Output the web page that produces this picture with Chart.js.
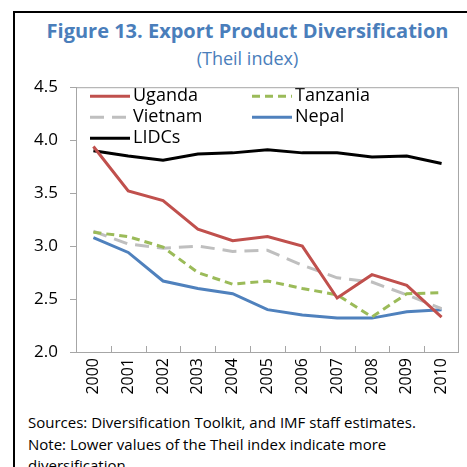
<!DOCTYPE html>
<html>
<head>
<meta charset="utf-8">
<script src="https://cdn.jsdelivr.net/npm/chart.js@4.4.0/dist/chart.umd.min.js"></script>
<style>
  body { margin: 0; background: #fff; font-family: "Open Sans", sans-serif; }
  #wrap { position: relative; width: 467px; height: 467px; overflow: hidden; }
  #frame { position: absolute; left: 13px; top: 11px; width: 470px; height: 470px;
           border-left: 2px solid #000; border-top: 2px solid #000; }
  #title { position: absolute; left: 14px; width: 467px; top: 17px; text-align: center;
           color: #4A7EBB; font-weight: bold; font-size: 20px; }
  #subtitle { position: absolute; left: 14px; width: 467px; top: 46px; text-align: center;
              color: #4A7EBB; font-size: 18px; }
  #box { position: absolute; left: 14px; top: 65px; width: 453px; height: 342px; }
  .note { position: absolute; left: 28px; font-size: 15px; color: #000; white-space: nowrap; }
</style>
</head>
<body>
<div id="wrap">
  <div id="frame"></div>
  <div id="title">Figure 13. Export Product Diversification</div>
  <div id="subtitle">(Theil index)</div>
  <div id="box"><canvas id="myChart"></canvas></div>
  <div class="note" style="top:412px">Sources: Diversification Toolkit, and IMF staff estimates.</div>
  <div class="note" style="top:434px">Note: Lower values of the Theil index indicate more</div>
  <div class="note" style="top:455px">diversification.</div>
</div>
<script>
// Datos
const years = ['2000', '2001', '2002', '2003', '2004', '2005', '2006', '2007', '2008', '2009', '2010'];
const uganda = [3.94, 3.52, 3.43, 3.16, 3.05, 3.09, 3.00, 2.51, 2.73, 2.63, 2.33];
const tanzania = [3.13, 3.09, 2.99, 2.75, 2.64, 2.67, 2.60, 2.54, 2.33, 2.55, 2.56];
const vietnam = [3.14, 3.02, 2.98, 3.00, 2.95, 2.96, 2.82, 2.70, 2.66, 2.54, 2.41];
const nepal = [3.08, 2.94, 2.67, 2.60, 2.55, 2.40, 2.35, 2.32, 2.32, 2.38, 2.40];
const lidcs = [3.90, 3.85, 3.81, 3.87, 3.88, 3.91, 3.88, 3.88, 3.84, 3.85, 3.78];
const yTicks = [2.0, 2.5, 3.0, 3.5, 4.0, 4.5];

const makeSet = (label, data, color, dash) => ({
    label: label,
    data: data,
    borderColor: color,
    backgroundColor: color,
    borderWidth: 3,
    borderDash: dash,
    pointRadius: 0,
    tension: 0,
    fill: false,
});

// leyenda dentro del area del grafico, dos columnas
const insideLegend = {
    id: 'insideLegend',
    afterDraw(chart) {
        const ctx = chart.ctx;
        const area = chart.chartArea;
        ctx.save();
        ctx.font = '18px "Open Sans"';
        ctx.textBaseline = 'middle';
        chart.data.datasets.forEach((ds, i) => {
            const col = i % 2;
            const row = Math.floor(i / 2);
            const x0 = area.left + 14 + col * 162;
            const y0 = area.top + 9 + row * 21;
            ctx.strokeStyle = ds.borderColor;
            ctx.lineWidth = 3;
            ctx.setLineDash(ds.borderDash || []);
            ctx.beginPath();
            ctx.moveTo(x0, y0);
            ctx.lineTo(x0 + 40, y0);
            ctx.stroke();
            ctx.setLineDash([]);
            ctx.fillStyle = '#000';
            ctx.fillText(ds.label, x0 + 43, y0);
        });
        // marco gris y marcas del eje x hacia dentro
        ctx.strokeStyle = '#A6A6A6';
        ctx.lineWidth = 1;
        ctx.strokeRect(area.left + 0.5, area.top + 0.5, area.right - area.left - 1, area.bottom - area.top);
        const step = (area.right - area.left) / years.length;
        ctx.beginPath();
        for (let i = 1; i < years.length; i++) {
            const x = Math.round(area.left + i * step) + 0.5;
            ctx.moveTo(x, area.bottom);
            ctx.lineTo(x, area.bottom - 6);
        }
        ctx.stroke();
        ctx.restore();
    }
};

const ctx = document.querySelector('#myChart');
const myChart = new Chart(ctx, {
    type: 'line',
    data: {
        labels: years,
        datasets: [
            makeSet('Uganda', uganda, '#C0504D', []),
            makeSet('Tanzania', tanzania, '#9BBB59', [8, 5]),
            makeSet('Vietnam', vietnam, '#BFBFBF', [14, 8]),
            makeSet('Nepal', nepal, '#4F81BD', []),
            makeSet('LIDCs', lidcs, '#000000', []),
        ],
    },
    options: {
        responsive: true,
        maintainAspectRatio: false,
        animation: false,
        layout: { padding: { top: 1, right: 5, left: 0, bottom: 0 } },
        plugins: {
            legend: { display: false },
            tooltip: { enabled: false },
        },
        scales: {
            x: {
                offset: true,
                grid: {
                    display: false,
                    drawTicks: false,
                },
                border: { color: '#A6A6A6' },
                ticks: {
                    color: '#000',
                    font: { family: 'Open Sans', size: 16 },
                    minRotation: 90,
                    maxRotation: 90,
                    padding: 6,
                },
                afterFit(scale) { scale.height = 55; },
            },
            y: {
                min: 2.0,
                max: 4.5,
                afterBuildTicks(scale) {
                    scale.ticks = yTicks.map(v => ({ value: v }));
                },
                grid: {
                    drawOnChartArea: false,
                    tickLength: 6,
                    color: '#A6A6A6',
                },
                border: { color: '#A6A6A6' },
                ticks: {
                    color: '#000',
                    font: { family: 'Open Sans', size: 17 },
                    callback: v => Number(v).toFixed(1),
                    padding: 12,
                },
                afterFit(scale) { scale.width = 62; },
            },
        },
    },
    plugins: [insideLegend],
});
</script>
</body>
</html>
